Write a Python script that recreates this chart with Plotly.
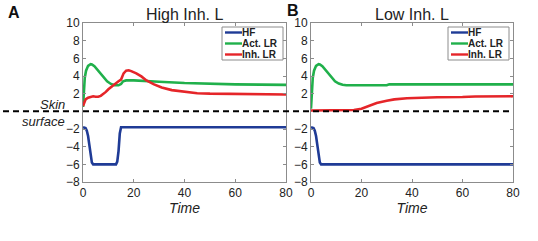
import plotly.graph_objects as go

# ---------------- data ----------------
series_names = ["HF", "Act. LR", "Inh. LR"]
x_ticks = [0, 20, 40, 60, 80]
y_ticks = [-8, -6, -4, -2, 2, 4, 6, 8, 10]
y_tick_labels = ["\u22128", "\u22126", "\u22124", "\u22122", "2", "4", "6", "8", "10"]

# Panel A: High Inh. L
hf_a_t = [0, 1, 1.5, 2, 2.5, 3, 3.5, 4, 13, 13.5, 14, 14.5, 15, 80]
hf_a_v = [-1.8, -1.9, -2.2, -2.8, -3.8, -5.0, -5.8, -6.0, -6.0, -5.7, -4.5, -2.5, -1.8, -1.8]

act_a_t = [0, 0.3, 0.7, 1.2, 2, 3, 3.5, 4.5, 5.5, 6.5, 8, 9.5, 11, 12.5, 14, 15, 15.8, 17, 20, 25, 30, 40, 50, 60, 80]
act_a_v = [0.5, 2.5, 3.8, 4.6, 5.15, 5.35, 5.3, 5.1, 4.75, 4.35, 3.8, 3.4, 3.1, 2.95, 2.95, 3.1, 3.4, 3.5, 3.5, 3.45, 3.35, 3.2, 3.1, 3.05, 3.0]

inh_a_t = [0, 0.5, 1, 2, 3, 4, 5, 6, 7, 8, 9, 10, 11, 12, 13, 14, 15, 15.5, 16, 17, 18, 19, 21, 23, 25, 28, 31, 35, 40, 45, 50, 60, 70, 80]
inh_a_v = [0.6, 1.1, 1.35, 1.55, 1.65, 1.7, 1.65, 1.65, 1.75, 1.95, 2.2, 2.5, 2.75, 3.0, 3.2, 3.4, 3.6, 4.0, 4.3, 4.6, 4.65, 4.55, 4.3, 3.95, 3.5, 3.05, 2.7, 2.4, 2.2, 2.05, 2.0, 1.95, 1.9, 1.9]

# Panel B: Low Inh. L
hf_b_t = [0, 1, 1.5, 2, 2.5, 3, 3.5, 4, 80]
hf_b_v = [-1.8, -1.9, -2.2, -2.8, -3.8, -5.0, -5.8, -6.0, -6.0]

act_b_t = [0, 0.3, 0.7, 1.2, 2, 3, 3.5, 4.5, 5.5, 6.5, 8, 9.5, 11, 12.5, 14, 16, 20, 30, 31, 40, 60, 80]
act_b_v = [0.3, 2.5, 3.8, 4.6, 5.15, 5.35, 5.3, 5.1, 4.75, 4.35, 3.8, 3.4, 3.15, 3.0, 2.95, 2.95, 2.95, 2.95, 3.05, 3.05, 3.05, 3.05]

inh_b_t = [0, 12, 14, 17, 20, 23, 26, 30, 33, 38, 43, 50, 60, 65, 80]
inh_b_v = [0.1, 0.1, 0.1, 0.15, 0.3, 0.6, 0.95, 1.2, 1.35, 1.48, 1.55, 1.6, 1.62, 1.68, 1.7]

colors = ["#1f3b96", "#20b04b", "#e52529"]

# ---------------- figure ----------------
W, H = 538, 241
def px_x(p):
    return p / W
def px_y(p):
    return 1 - p / H

fig = go.Figure()
panels = [
    ("x", "y", [(hf_a_t, hf_a_v), (act_a_t, act_a_v), (inh_a_t, inh_a_v)]),
    ("x2", "y2", [(hf_b_t, hf_b_v), (act_b_t, act_b_v), (inh_b_t, inh_b_v)]),
]
for xa, ya, data in panels:
    for (t, v), name, c in zip(data, series_names, colors):
        fig.add_trace(go.Scatter(x=t, y=v, mode="lines", name=name, xaxis=xa, yaxis=ya,
                                 line=dict(color=c, width=2.6), showlegend=False))

font_family = "Liberation Sans, Arial, sans-serif"
axis_common = dict(showline=True, linecolor="#8c8c8c", linewidth=1, mirror="ticks",
                   ticks="inside", ticklen=3, tickcolor="#8c8c8c", showgrid=False,
                   zeroline=False, tickfont=dict(size=12, color="#222", family=font_family))

ydom = [px_y(182), px_y(23)]
fig.update_layout(
    width=W, height=H, margin=dict(l=0, r=0, t=0, b=0, autoexpand=False),
    paper_bgcolor="white", plot_bgcolor="white", showlegend=False,
    font=dict(family=font_family, color="#222"),
    xaxis=dict(domain=[px_x(83), px_x(286)], range=[0, 80], tickvals=x_ticks, anchor="y",
               title=dict(text="<i>Time</i>", font=dict(size=14), standoff=2), **axis_common),
    yaxis=dict(domain=ydom, range=[-8, 10], tickvals=y_ticks, ticktext=y_tick_labels, anchor="x", **axis_common),
    xaxis2=dict(domain=[px_x(311), px_x(513)], range=[0, 80], tickvals=x_ticks, anchor="y2",
                title=dict(text="<i>Time</i>", font=dict(size=14), standoff=2), **axis_common),
    yaxis2=dict(domain=ydom, range=[-8, 10], tickvals=y_ticks, ticktext=y_tick_labels, anchor="x2", **axis_common),
)

# skin surface dashed line
fig.add_shape(type="line", xref="paper", yref="y", x0=px_x(3), x1=px_x(513), y0=0, y1=0,
              line=dict(color="black", width=2, dash="6px,4px"), layer="above")

# titles, panel letters, skin surface label
fig.add_annotation(text="High Inh. L", x=px_x(184), y=px_y(14), xref="paper", yref="paper",
                   showarrow=False, font=dict(size=16, color="#222"), xanchor="center", yanchor="middle")
fig.add_annotation(text="Low Inh. L", x=px_x(412), y=px_y(14), xref="paper", yref="paper",
                   showarrow=False, font=dict(size=16, color="#222"), xanchor="center", yanchor="middle")
fig.add_annotation(text="<b>A</b>", x=px_x(6), y=px_y(12), xref="paper", yref="paper", showarrow=False,
                   font=dict(size=16, color="#111"), xanchor="left", yanchor="middle")
fig.add_annotation(text="<b>B</b>", x=px_x(285), y=px_y(11), xref="paper", yref="paper", showarrow=False,
                   font=dict(size=16, color="#111"), xanchor="left", yanchor="middle")
fig.add_annotation(text="<i>Skin</i>", x=px_x(67), y=px_y(104), xref="paper", yref="paper", showarrow=False,
                   font=dict(size=13, color="#222"), xanchor="right", yanchor="middle")
fig.add_annotation(text="<i>surface</i>", x=px_x(67), y=px_y(121), xref="paper", yref="paper", showarrow=False,
                   font=dict(size=13, color="#222"), xanchor="right", yanchor="middle")

# custom compact legends
for left, right in [(222, 283), (448, 509)]:
    fig.add_shape(type="rect", xref="paper", yref="paper", x0=px_x(left), x1=px_x(right),
                  y0=px_y(60), y1=px_y(27), line=dict(color="#8c8c8c", width=1), fillcolor="white", layer="above")
    for i, (name, c) in enumerate(zip(series_names, colors)):
        yy = 32.5 + i * 11
        fig.add_shape(type="line", xref="paper", yref="paper", x0=px_x(left + 3), x1=px_x(left + 20),
                      y0=px_y(yy), y1=px_y(yy), line=dict(color=c, width=2.4), layer="above")
        fig.add_annotation(text="<b>" + name + "</b>", x=px_x(left + 19), y=px_y(yy), xref="paper", yref="paper",
                           showarrow=False, font=dict(size=10, color="#222"), xanchor="left", yanchor="middle",
                           borderpad=0)

fig.write_html("out.html", config={"displayModeBar": False},
               post_script="document.body.style.margin='0';document.body.style.overflow='hidden';")
